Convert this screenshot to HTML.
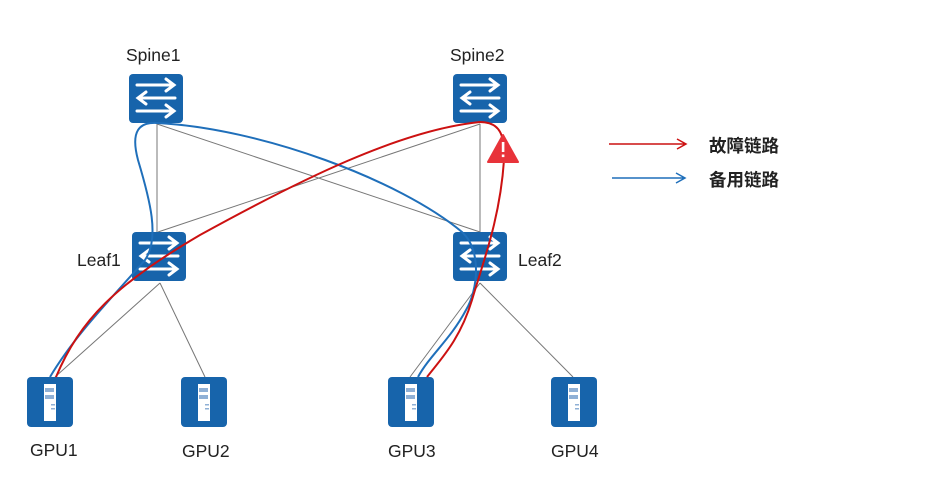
<!DOCTYPE html>
<html><head><meta charset="utf-8"><style>
body{margin:0;background:#fff;width:952px;height:481px;overflow:hidden}
svg{display:block}
text{font-family:"Liberation Sans","Noto Sans CJK SC",sans-serif;font-size:17.5px;fill:#222}
</style></head><body>
<svg width="952" height="481" viewBox="0 0 952 481">
<defs>
<g id="sw">
<rect x="0" y="0" width="54" height="49" rx="4" fill="#1764ab"/>
<g stroke="#fff" stroke-width="3" fill="none" stroke-linecap="round">
<path d="M8 11H44M37 5L45 11L37 17"/>
<path d="M46 24H10M17 18L9 24L17 30"/>
<path d="M8 37H44M37 31L45 37L37 43"/>
</g></g>
<g id="srv">
<rect x="0" y="0" width="46" height="50" rx="4" fill="#1764ab"/>
<rect x="17" y="7" width="12" height="37" fill="#fff"/>
<rect x="18" y="11" width="9" height="4" fill="#8fb0d6"/>
<rect x="18" y="18" width="9" height="4" fill="#8fb0d6"/>
<rect x="24" y="27" width="4" height="1.5" fill="#8fb0d6"/>
<rect x="24" y="31" width="4" height="1.5" fill="#8fb0d6"/>
</g>
</defs>
<g stroke="#777" stroke-width="1" fill="none">
<path d="M157 124V232M480 124V232M157 124L480 232M480 124L158 232"/>
<path d="M160 283L55 377M160 283L205 377M480 283L410 377M480 283L573 377"/>
</g>
<use href="#sw" x="129" y="74"/>
<use href="#sw" x="453" y="74"/>
<use href="#sw" x="132" y="232"/>
<use href="#sw" x="453" y="232"/>
<use href="#srv" x="27" y="377"/>
<use href="#srv" x="181" y="377"/>
<use href="#srv" x="388" y="377"/>
<use href="#srv" x="551" y="377"/>
<g fill="none" stroke-width="2">
<path d="M50 377C75 335 110 300 145 260C160 238 150 200 138 160C130 130 140 122 157 123C260 128 400 180 462 232C482 250 478 290 466 310C450 340 430 355 418 377" stroke="#1f6fba"/>
<path d="M56 377C80 320 115 285 200 235C300 180 400 130 480 122C500 122 505 135 504 160C500 220 482 265 472 300C460 340 440 360 427 377" stroke="#cc1111"/>
</g>
<path d="M503 135L518 162H488Z" fill="#e8333a" stroke="#e8333a" stroke-width="2" stroke-linejoin="round"/>
<rect x="501.8" y="142" width="2.6" height="10" fill="#fff"/>
<rect x="501.8" y="154.5" width="2.6" height="2.6" fill="#fff"/>
<text x="126" y="61">Spine1</text>
<text x="450" y="61">Spine2</text>
<text x="77" y="266">Leaf1</text>
<text x="518" y="266">Leaf2</text>
<text x="30" y="456">GPU1</text>
<text x="182" y="457">GPU2</text>
<text x="388" y="457">GPU3</text>
<text x="551" y="457">GPU4</text>
<g fill="none" stroke-width="1.5">
<path d="M609 144H685M677 139L686 144L677 149" stroke="#cc1111"/>
<path d="M612 178H684M676 173L685 178L676 183" stroke="#1f6fba"/>
</g>
<text x="709" y="152" style="font-weight:bold;font-size:17.5px">故障链路</text>
<text x="709" y="186" style="font-weight:bold;font-size:17.5px">备用链路</text>
</svg>
</body></html>
